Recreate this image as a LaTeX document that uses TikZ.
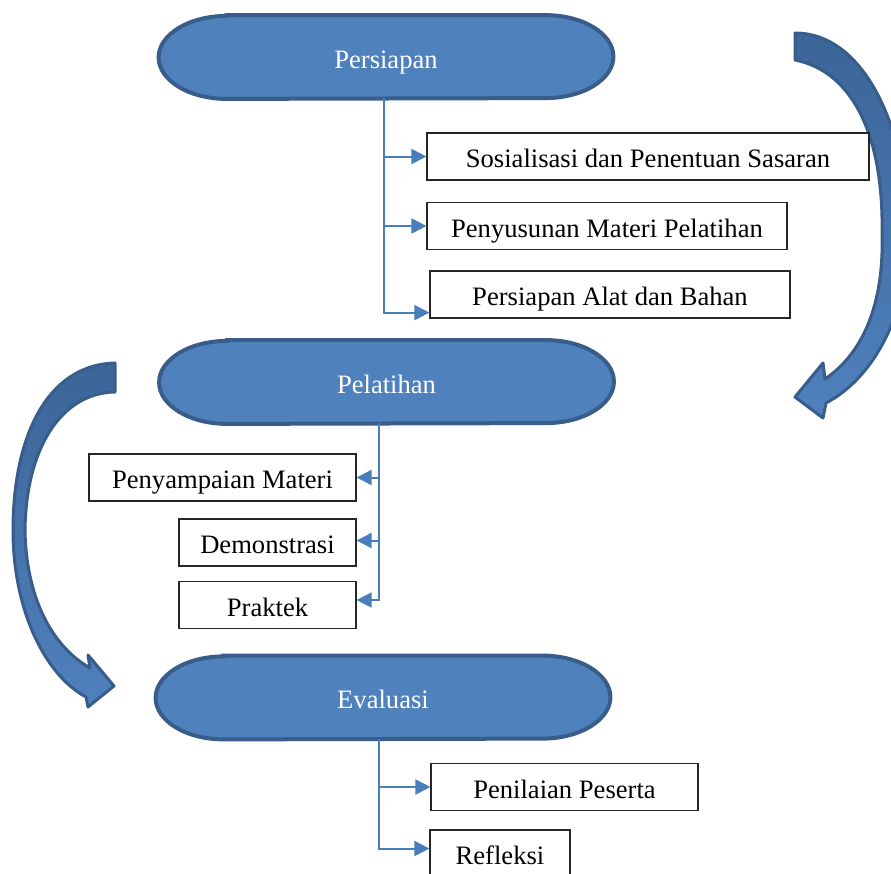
\documentclass[tikz,border=0pt]{standalone}
\usepackage{fontspec}
\setmainfont{Liberation Serif}
\usetikzlibrary{arrows.meta,backgrounds}

\definecolor{phasefill}{HTML}{4F81BD}
\definecolor{phaseline}{HTML}{385D8A}
\definecolor{bandshade}{HTML}{3C6598}
\definecolor{linkblue}{HTML}{4A7EBB}

\tikzset{
	phase/.style={minimum width=227pt, minimum height=41.5pt, inner sep=0pt, text=white, text height=12.5pt, text depth=1.5pt},
	phaseshape/.style={fill=phasefill, draw=phaseline, line width=2pt},
	item/.style={draw=black!85, line width=0.6pt, fill=white, minimum height=23.5pt, inner sep=0pt, text height=12.5pt, text depth=1.5pt},
	link/.style={draw=linkblue, line width=1pt, -{Triangle[length=7.5pt,width=7.5pt]}},
	bigarrow/.style={top color=bandshade, bottom color=phasefill, draw=phaseline, line width=1.5pt, line join=round}
}

\begin{document}
\begin{tikzpicture}[x=0.5pt, y=-0.5pt, line cap=round, font=\fontsize{13.3}{16}\selectfont]
	% Page frame
	\useasboundingbox (0,0) rectangle (891,874);
	
	% Curved arrow on the right (Persiapan to Pelatihan)
	\filldraw[bigarrow] (795,33) .. controls (865,33) and (908,130) .. (908,235)
	.. controls (908,320) and (870,380) .. (826,403)
	-- (823,418) -- (795,397) -- (823,363) -- (825,379)
	.. controls (865,352) and (884,300) .. (882,235)
	.. controls (884,140) and (855,72) .. (795,60) -- cycle;
	
	% Curved arrow on the left (Pelatihan to Evaluasi)
	\filldraw[bigarrow] (115,363) .. controls (45,365) and (13,440) .. (13,530)
	.. controls (13,610) and (45,675) .. (86,697)
	-- (88,707) -- (114,686) -- (88,655) -- (90,668)
	.. controls (50,645) and (26,595) .. (25,530)
	.. controls (26,450) and (60,393) .. (115,392) -- cycle;
	
	% Three phases
	\node[phase] (persiapan) at (386,57) {Persiapan};
	\node[phase] (pelatihan) at (386.5,382) {Pelatihan};
	\node[phase] (evaluasi) at (383,697.5) {Evaluasi};
	
	% Stadium outlines behind the phase labels
	\begin{scope}[on background layer]
		\foreach \n in {persiapan,pelatihan,evaluasi}
		\draw[phaseshape] ([xshift=34pt]\n.north west) -- ([xshift=-34pt]\n.north east)
		arc[start angle=90, end angle=-90, x radius=34pt, y radius=20.75pt]
		-- ([xshift=34pt]\n.south west)
		arc[start angle=270, end angle=90, x radius=34pt, y radius=20.75pt] -- cycle;
	\end{scope}
	
	% Steps of each phase
	\node[item, minimum width=221pt] (sosialisasi) at (648,156.5) {Sosialisasi dan Penentuan Sasaran};
	\node[item, minimum width=180pt] (penyusunan) at (607,226) {Penyusunan Materi Pelatihan};
	\node[item, minimum width=180pt] (alat) at (610,294.5) {Persiapan Alat dan Bahan};
	
	\node[item, minimum width=133.5pt] (penyampaian) at (222.5,477.5) {Penyampaian Materi};
	\node[item, minimum width=88.5pt] (demonstrasi) at (267.5,542.5) {Demonstrasi};
	\node[item, minimum width=88.5pt] (praktek) at (267.5,605) {Praktek};
	
	\node[item, minimum width=133.5pt] (penilaian) at (564.5,787) {Penilaian Peserta};
	\node[item, minimum width=70pt] (refleksi) at (500,853.5) {Refleksi};
	
	% Bracket connectors
	\draw[link] ([xshift=-1pt]persiapan.south) |- (sosialisasi.west);
	\draw[link] ([xshift=-1pt]persiapan.south) |- (penyusunan.west);
	\draw[link] ([xshift=-1pt]persiapan.south) |- ([yshift=3pt]alat.south west);
	
	\draw[link] ([xshift=-4pt]pelatihan.south) |- (penyampaian.east);
	\draw[link] ([xshift=-4pt]pelatihan.south) |- ([yshift=1pt]demonstrasi.east);
	\draw[link] ([xshift=-4pt]pelatihan.south) |- ([yshift=2.5pt]praktek.east);
	
	\draw[link] ([xshift=-2pt]evaluasi.south) |- (penilaian.west);
	\draw[link] ([xshift=-2pt]evaluasi.south) |- ([yshift=2.5pt]refleksi.west);
\end{tikzpicture}
\end{document}
